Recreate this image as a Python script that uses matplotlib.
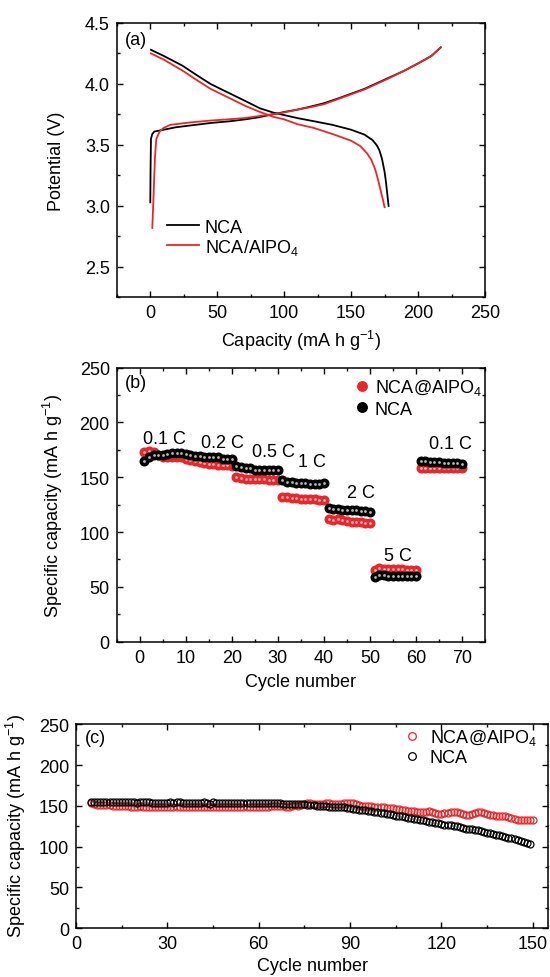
import matplotlib
matplotlib.use("Agg")
import matplotlib.pyplot as plt
from matplotlib.ticker import MultipleLocator

plt.rcParams['font.family'] = ['Liberation Sans', 'DejaVu Sans']
plt.rcParams['mathtext.fontset'] = 'custom'
plt.rcParams['mathtext.rm'] = 'Liberation Sans'
plt.rcParams['mathtext.it'] = 'Liberation Sans:italic'
plt.rcParams['mathtext.bf'] = 'Liberation Sans:bold'

RED = '#e8262b'
FS = 13

# (a) charge / discharge curves
nca_chg_cap = [0, 0.2, 0.5, 1.5, 3, 10, 19, 30, 45, 60, 71, 80, 89, 100, 110, 118,
               129, 140, 150, 160, 176, 190, 202, 210, 217]
nca_chg_v = [3.03, 3.30, 3.55, 3.59, 3.61, 3.625, 3.645, 3.66, 3.68, 3.695, 3.71, 3.725,
             3.745, 3.77, 3.79, 3.81, 3.84, 3.88, 3.92, 3.96, 4.04, 4.11, 4.18, 4.23, 4.30]
nca_dis_cap = [0.5, 10, 24, 35, 45, 58, 71, 82, 92, 100, 110, 122, 136, 150, 160, 166,
               169, 171, 173, 175, 176, 177, 178]
nca_dis_v = [4.28, 4.23, 4.15, 4.07, 4.00, 3.93, 3.86, 3.80, 3.765, 3.745, 3.72, 3.695,
             3.665, 3.625, 3.585, 3.54, 3.50, 3.46, 3.39, 3.28, 3.20, 3.10, 3.00]
al_chg_cap = [1.5, 2.5, 3.5, 4.5, 7, 10, 15, 30, 45, 58, 70, 80, 90, 97, 110, 120, 130,
              140, 150, 160, 176, 190, 202, 210, 217]
al_chg_v = [2.82, 3.10, 3.40, 3.55, 3.61, 3.64, 3.665, 3.685, 3.70, 3.71, 3.72, 3.735,
            3.75, 3.76, 3.79, 3.81, 3.835, 3.875, 3.915, 3.955, 4.035, 4.11, 4.18, 4.23, 4.30]
al_dis_cap = [0.5, 10, 24, 35, 45, 58, 71, 82, 92, 100, 110, 122, 136, 150, 157, 162,
              165, 168, 170, 172, 174, 175]
al_dis_v = [4.25, 4.20, 4.11, 4.03, 3.96, 3.89, 3.82, 3.77, 3.73, 3.71, 3.67, 3.64,
            3.59, 3.535, 3.49, 3.43, 3.38, 3.30, 3.22, 3.13, 3.04, 2.99]

# (b) rate capability, 10 cycles per rate
rate_cycles = list(range(1, 71))
rate_nca = [165, 168, 170, 170, 170, 171, 172, 172, 172, 171,
            170, 169, 169, 168, 168, 168, 168, 167, 167, 167,
            160, 159, 158, 158, 157, 157, 157, 157, 157, 157,
            147, 146, 146, 145, 145, 145, 144, 144, 144, 145,
            122, 121, 121, 120, 120, 120, 120, 119, 119, 118,
            59, 61, 61, 60, 60, 60, 60, 60, 60, 60,
            165, 165, 164, 164, 164, 163, 163, 163, 163, 162]
rate_al = [173, 174, 173, 170, 168, 168, 168, 168, 168, 167,
           166, 165, 164, 163, 162, 162, 161, 161, 161, 160,
           150, 149, 148, 148, 148, 148, 148, 147, 147, 147,
           132, 132, 131, 131, 130, 130, 130, 130, 129, 129,
           112, 111, 112, 111, 110, 109, 109, 109, 108, 108,
           65, 67, 66, 66, 66, 66, 66, 65, 65, 65,
           158, 158, 158, 158, 158, 158, 158, 158, 158, 158]
rate_labels = ['0.1 C', '0.2 C', '0.5 C', '1 C', '2 C', '5 C', '0.1 C']
rate_label_x = [5.3, 18, 29, 37.5, 48, 56, 67.5]
rate_label_y = [185, 181.5, 173, 164, 136, 79, 181]

# (c) long cycling
cyc_nca = list(range(5, 150))
cap_nca = [155, 155, 155, 155, 155, 155, 155, 155, 155, 155,
           155, 155, 155, 155, 155, 154, 155, 155, 155, 155,
           154, 154, 154, 154, 154, 154, 155, 154, 155, 155,
           154, 154, 154, 154, 154, 154, 154, 155, 154, 152,
           155, 154, 154, 154, 154, 154, 154, 154, 154, 154,
           154, 153, 153, 153, 153, 153, 153, 153, 153, 153,
           153, 153, 153, 152, 152, 152, 152, 152, 152, 152,
           152, 151, 151, 151, 150, 150, 150, 150, 149, 149,
           149, 148, 148, 148, 147, 147, 146, 146, 145, 145,
           145, 144, 143, 142, 142, 141, 141, 140, 140, 139,
           138, 137, 137, 136, 135, 135, 134, 134, 133, 132,
           131, 130, 130, 129, 129, 128, 127, 127, 126, 125,
           125, 124, 123, 122, 122, 121, 120, 120, 119, 118,
           117, 116, 115, 114, 114, 113, 112, 111, 110, 109,
           108, 107, 106, 104, 103]
cyc_al = list(range(5, 151))
cap_al = [153, 152, 151, 151, 151, 151, 151, 150, 150, 150,
          150, 150, 150, 149, 149, 149, 150, 149, 149, 149,
          149, 149, 149, 149, 148, 148, 148, 149, 149, 149,
          149, 148, 148, 148, 149, 149, 148, 148, 148, 148,
          149, 149, 148, 148, 148, 149, 149, 149, 148, 148,
          148, 149, 149, 149, 149, 149, 149, 149, 149, 150,
          150, 150, 150, 150, 149, 149, 150, 151, 150, 151,
          152, 153, 153, 152, 152, 152, 152, 153, 153, 152,
          152, 152, 152, 153, 153, 154, 153, 152, 151, 150,
          150, 150, 150, 149, 149, 148, 148, 147, 147, 147,
          146, 146, 145, 145, 144, 143, 143, 142, 142, 142,
          142, 143, 142, 141, 140, 140, 141, 141, 142, 142,
          142, 141, 140, 139, 139, 140, 141, 142, 142, 141,
          140, 139, 139, 138, 138, 138, 137, 136, 135, 134,
          133, 133, 133, 132, 133, 132]

cap_label = 'Capacity (mA h g$^{-1}$)'
spec_label = 'Specific capacity (mA h g$^{-1}$)'


def style_axes(ax, fs):
    for s in ax.spines.values():
        s.set_linewidth(1.1)
    ax.tick_params(which='both', direction='in', top=True, right=True,
                   labelsize=fs, width=1.0, pad=5)
    ax.tick_params(which='major', length=4)
    ax.tick_params(which='minor', length=2.2)


fig = plt.figure(figsize=(5.5, 9.78), dpi=100)

# ---- (a)
ax1 = fig.add_axes([0.2124, 0.6948, 0.6694, 0.2807])
ax1.plot(nca_chg_cap, nca_chg_v, color='black', lw=1.3, label='NCA')
ax1.plot(nca_dis_cap, nca_dis_v, color='black', lw=1.3)
ax1.plot(al_chg_cap, al_chg_v, color=RED, lw=1.3, label='NCA/AlPO$_4$')
ax1.plot(al_dis_cap, al_dis_v, color=RED, lw=1.3)
ax1.set_xlim(-25, 250)
ax1.set_ylim(2.25, 4.5)
ax1.xaxis.set_major_locator(MultipleLocator(50))
ax1.xaxis.set_minor_locator(MultipleLocator(25))
ax1.yaxis.set_major_locator(MultipleLocator(0.5))
ax1.yaxis.set_minor_locator(MultipleLocator(0.25))
style_axes(ax1, FS)
ax1.set_xlabel(cap_label, fontsize=FS)
ax1.set_ylabel('Potential (V)', fontsize=FS)
ax1.xaxis.set_label_coords(0.5, -0.111)
ax1.yaxis.set_label_coords(-0.141, 0.5)
ax1.text(0.022, 0.94, '(a)', transform=ax1.transAxes, fontsize=FS, va='center')
ax1.legend(loc='upper left', bbox_to_anchor=(0.136, 0.287), frameon=False,
           fontsize=FS, handlelength=1.77, handletextpad=0.33, labelspacing=0.05,
           borderpad=0, borderaxespad=0)

# ---- (b)
ax2 = fig.add_axes([0.2122, 0.3428, 0.6697, 0.2804])
ax2.plot(rate_cycles, rate_al, 'o', ms=6.2, color=RED, mec=RED, label='NCA@AlPO$_4$')
ax2.plot(rate_cycles, rate_al, 'o', ms=2.0, color='#ffb0b0', mec='none')
ax2.plot(rate_cycles, rate_nca, 'o', ms=6.2, color='black', mec='black', label='NCA')
ax2.plot(rate_cycles, rate_nca, 'o', ms=2.0, color='#b8b8b8', mec='none')
for lab, lx, ly in zip(rate_labels, rate_label_x, rate_label_y):
    ax2.text(lx, ly, lab, fontsize=FS, ha='center', va='center')
ax2.set_xlim(-5, 75)
ax2.set_ylim(0, 250)
ax2.xaxis.set_major_locator(MultipleLocator(10))
ax2.xaxis.set_minor_locator(MultipleLocator(5))
ax2.yaxis.set_major_locator(MultipleLocator(50))
ax2.yaxis.set_minor_locator(MultipleLocator(25))
style_axes(ax2, FS)
ax2.set_xlabel('Cycle number', fontsize=FS)
ax2.set_ylabel(spec_label, fontsize=FS)
ax2.xaxis.set_label_coords(0.5, -0.114)
ax2.yaxis.set_label_coords(-0.141, 0.5)
ax2.text(0.022, 0.947, '(b)', transform=ax2.transAxes, fontsize=FS, va='center')
ax2.legend(loc='upper left', bbox_to_anchor=(0.6457, 0.965), frameon=False,
           fontsize=FS, handlelength=0.8, handletextpad=0.32, labelspacing=0.2,
           borderpad=0, borderaxespad=0, markerscale=1.1)

# ---- (c)
ax3 = fig.add_axes([0.1382, 0.0501, 0.8582, 0.2083])
ax3.plot(cyc_al, cap_al, 'o', ms=5.0, mfc='none', mec=RED, mew=0.9, label='NCA@AlPO$_4$')
ax3.plot(cyc_nca, cap_nca, 'o', ms=5.0, mfc='none', mec='black', mew=0.9, label='NCA')
ax3.set_xlim(0, 155)
ax3.set_ylim(0, 250)
ax3.xaxis.set_major_locator(MultipleLocator(30))
ax3.xaxis.set_minor_locator(MultipleLocator(15))
ax3.yaxis.set_major_locator(MultipleLocator(50))
ax3.yaxis.set_minor_locator(MultipleLocator(25))
style_axes(ax3, FS)
ax3.set_xlabel('Cycle number', fontsize=FS)
ax3.set_ylabel(spec_label, fontsize=FS)
ax3.xaxis.set_label_coords(0.5, -0.142)
ax3.yaxis.set_label_coords(-0.102, 0.507)
ax3.text(0.018, 0.933, '(c)', transform=ax3.transAxes, fontsize=FS, va='center')
ax3.legend(loc='upper left', bbox_to_anchor=(0.696, 0.985), frameon=False,
           fontsize=FS, handlelength=0.8, handletextpad=0.59, labelspacing=0.1,
           borderpad=0, borderaxespad=0, markerscale=1.1)

fig.savefig('out.png', dpi=100)
